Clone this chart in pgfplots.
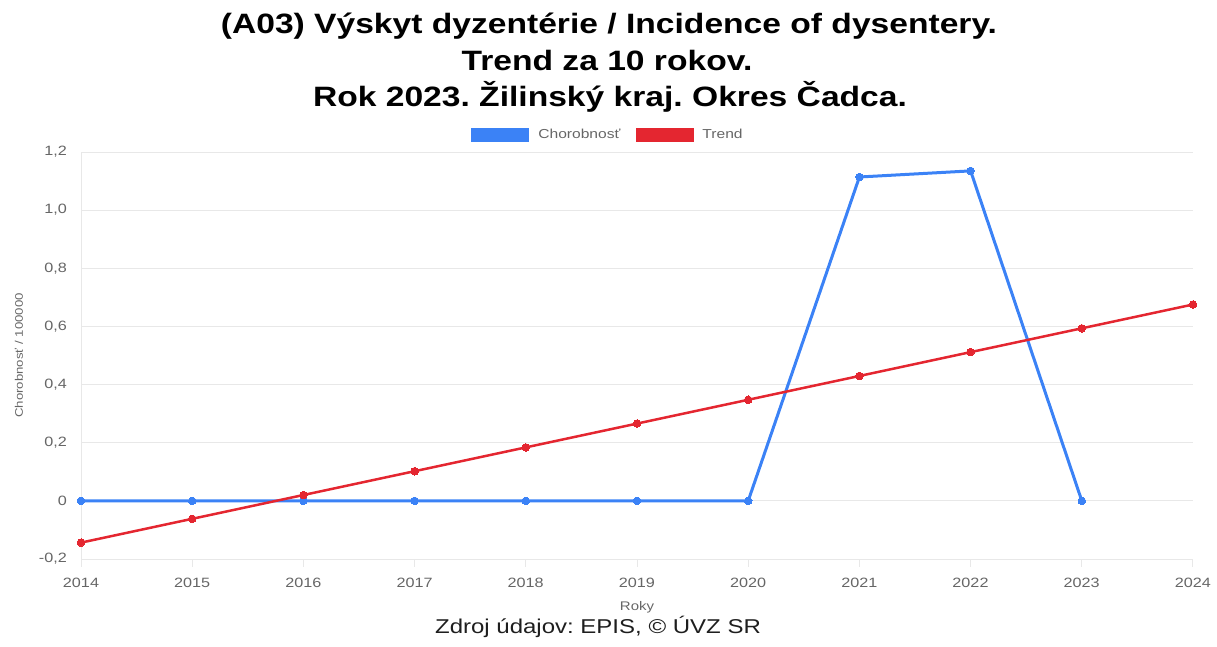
\documentclass[border=0pt]{standalone}
\usepackage{pgfplots}
\pgfplotsset{compat=1.18}
\usepackage{fontspec}
\setmainfont{Liberation Sans}[FakeStretch=1.2]
\frenchspacing
\definecolor{cblue}{RGB}{59,130,246}
\definecolor{cred}{RGB}{228,38,48}
\definecolor{cgrid}{RGB}{232,232,232}
\definecolor{ctick}{RGB}{102,102,102}
\begin{document}
\begin{tikzpicture}
\path[use as bounding box] (0,0) rectangle (1217bp,647bp);
\node[font=\fontsize{28bp}{32bp}\selectfont\bfseries, anchor=base, inner sep=0pt] at (609bp,613bp) {(A03) Výskyt dyzentérie / Incidence of dysentery.};
\node[font=\fontsize{28bp}{32bp}\selectfont\bfseries, anchor=base, inner sep=0pt] at (607bp,576.5bp) {Trend za 10 rokov.};
\node[font=\fontsize{28bp}{32bp}\selectfont\bfseries, anchor=base, inner sep=0pt] at (610bp,540bp) {Rok 2023. Žilinský kraj. Okres Čadca.};
\node[font=\fontsize{20bp}{24bp}\selectfont, text={rgb,255:red,30;green,30;blue,30}, anchor=base, inner sep=0pt] at (598bp,14bp) {Zdroj údajov: EPIS, © ÚVZ SR};
\begin{axis}[
  at={(81bp,88bp)}, anchor=south west,
  scale only axis, width=1112bp, height=407bp,
  xmin=2014, xmax=2024, ymin=-0.2, ymax=1.2,
  xtick={2014,...,2024},
  xticklabels={2014,2015,2016,2017,2018,2019,2020,2021,2022,2023,2024},
  ytick={-0.2,0,0.2,0.4,0.6,0.8,1.0,1.2},
  yticklabels={{-0,2},{0},{0,2},{0,4},{0,6},{0,8},{1,0},{1,2}},
  ymajorgrids, major grid style={cgrid, line width=0.8bp},
  axis x line*=bottom, axis y line*=left,
  axis line style={cgrid, line width=0.8bp, -},
  x tick style={draw=cgrid, line width=0.8bp}, y tick style={draw=none},
  tick align=outside, major tick length=8bp,
  tick label style={font=\fontsize{13.5bp}{16bp}\selectfont, text=ctick},
  xticklabel style={anchor=base, inner sep=0pt, yshift=-20bp},
  yticklabel style={anchor=east, inner sep=0pt, xshift=-6bp},
  xlabel={Roky}, ylabel={Chorobnosť / 100000},
  xlabel style={font=\fontsize{12.5bp}{15bp}\selectfont, text=ctick, at={(axis description cs:0.5,0)}, anchor=base, inner sep=0pt, yshift=-51bp},
  ylabel style={font=\fontsize{11bp}{13bp}\selectfont, text=ctick, at={(axis description cs:0,0.5)}, anchor=center, inner sep=0pt, yshift=62bp},
  legend columns=2,
  legend style={at={(0.5,1.0)}, anchor=center, xshift=-29bp, yshift=17bp, draw=none, fill=none,
    font=\fontsize{13bp}{15bp}\selectfont, text=ctick, inner sep=0pt,
    /tikz/every even column/.append style={column sep=13bp},
    /tikz/every odd column/.append style={column sep=7bp}},
  legend image code/.code={\fill[#1, draw=none] (0bp,-7bp) rectangle (58bp,7bp);},
  clip=false,
]
\addplot[cblue, line width=3bp, mark=*, mark size=3.8bp, mark options={fill=cblue, draw=cblue, line width=0pt}]
coordinates {(2014,0) (2015,0) (2016,0) (2017,0) (2018,0) (2019,0) (2020,0) (2021,1.114) (2022,1.135) (2023,0)};
\addlegendentry{Chorobnosť}
\addplot[cred, line width=2.5bp, mark=*, mark size=3.8bp, mark options={fill=cred, draw=cred, line width=0pt}]
coordinates {(2014,-0.1437) (2015,-0.0618) (2016,0.0201) (2017,0.1020) (2018,0.1839) (2019,0.2658) (2020,0.3477) (2021,0.4296) (2022,0.5116) (2023,0.5935) (2024,0.6754)};
\addlegendentry{Trend}
\end{axis}
\end{tikzpicture}
\end{document}
